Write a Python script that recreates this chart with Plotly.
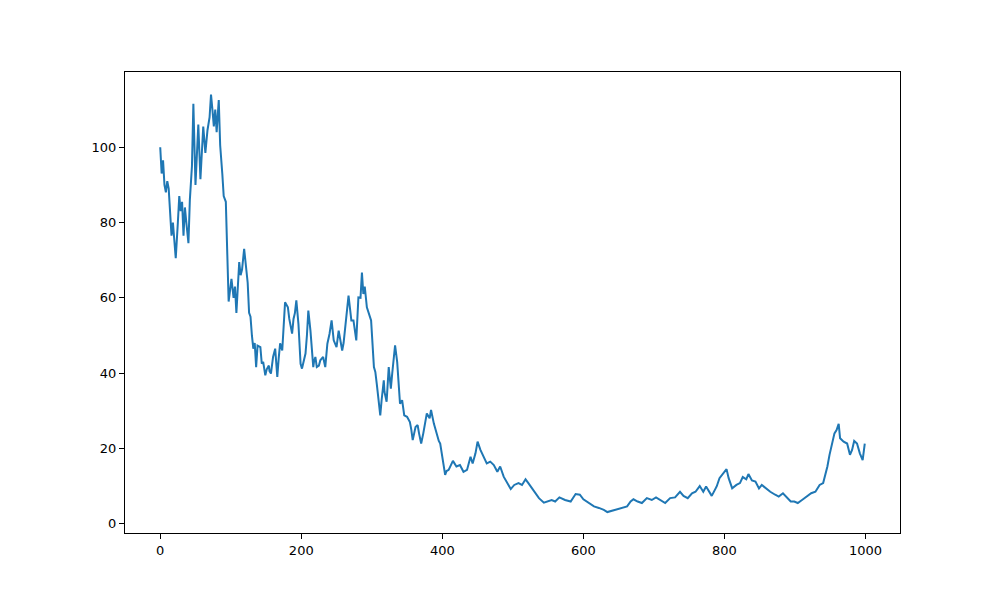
import plotly.graph_objects as go

x_vals = [0, 2, 4, 6, 8, 10, 12, 14, 16, 18, 20, 22, 25, 27, 29, 31, 33, 35, 37, 40,
          42, 45, 47, 50, 52, 54, 57, 59, 61, 64, 67, 70, 72, 74, 76, 78, 80, 83, 85, 88,
          90, 93, 95, 97, 99, 101, 104, 106, 108, 110, 112, 114, 116, 119, 122, 124, 126, 128, 130, 132,
          134, 136, 138, 142, 144, 146, 149, 151, 154, 155, 157, 160, 163, 166, 168, 170, 173, 175, 177, 181,
          183, 187, 189, 191, 193, 196, 199, 201, 203, 206, 208, 210, 213, 217, 218, 220, 222, 225, 227, 231,
          234, 237, 240, 243, 246, 250, 253, 258, 260, 262, 265, 267, 271, 274, 278, 281, 284, 286, 288, 290,
          293, 296, 299, 303, 305, 307, 310, 312, 314, 317, 318, 321, 324, 327, 329, 331, 333, 336, 338, 340,
          343, 346, 350, 354, 356, 358, 362, 365, 367, 370, 373, 376, 378, 382, 384, 388, 391, 395, 397, 401,
          404, 406, 409, 412, 415, 420, 425, 430, 435, 440, 443, 447, 450, 454, 459, 463, 468, 473, 478, 482,
          487, 492, 497, 502, 508, 513, 518, 522, 530, 537, 544, 551, 555, 560, 566, 574, 582, 589, 595, 600,
          607, 615, 622, 629, 634, 641, 648, 655, 662, 667, 671, 677, 683, 690, 697, 703, 709, 716, 723, 730,
          737, 742, 748, 754, 759, 765, 770, 774, 782, 789, 793, 799, 803, 806, 811, 817, 822, 826, 831, 834,
          839, 844, 849, 853, 860, 865, 872, 877, 883, 889, 894, 899, 904, 910, 917, 923, 929, 935, 940, 946,
          949, 953, 956, 959, 962, 964, 969, 974, 978, 981, 984, 988, 992, 996, 999]

y_vals = [100, 93, 96.5, 90, 88, 91, 89, 82, 76.5, 80, 76, 70.5, 80, 87, 83, 85.5, 76.5, 84, 80, 74.5,
          86, 95, 111.5, 90, 98, 106, 91.5, 100, 105.5, 98.5, 104.5, 108, 114, 110, 105.5, 110, 104, 112.5, 100.5, 93,
          87, 85.5, 70, 59, 62, 65, 60, 63, 56, 63, 69.5, 66, 67.5, 73, 68.5, 64, 56, 55, 50, 46.5,
          48, 41.6, 47.3, 46.9, 42.5, 43, 39.4, 41, 42, 40.5, 39.9, 44.3, 46.5, 39, 44, 47.9, 46, 52, 58.8, 57.5,
          54.4, 50.5, 54.4, 56, 59.3, 53, 42.5, 41.2, 43, 45.2, 50, 56.6, 51.3, 41.6, 43, 44.3, 41.6, 42, 43.4, 44.3,
          41.6, 47.8, 50.4, 54, 48.7, 46.9, 51.3, 46, 48, 51.3, 56, 60.6, 54, 54, 48.7, 60.1, 60, 66.7, 61, 63,
          57.5, 56, 54, 41.6, 40.3, 37.2, 33, 28.8, 33, 38.1, 35, 32.4, 41.6, 35.9, 40, 44.3, 47.4, 42.9, 37, 31.9,
          32.8, 28.8, 28.4, 27, 25, 22.2, 25.7, 26.2, 24, 21.3, 24, 27, 29.3, 28, 30.2, 26.6, 24.4, 22, 21.3, 17,
          13, 14, 14.3, 15.5, 16.7, 15.2, 15.6, 13.8, 14.3, 17.8, 16, 18.7, 21.8, 19.6, 17.8, 16, 16.5, 15.6, 13.8, 15.2,
          12.5, 10.8, 9.2, 10.3, 10.8, 10.3, 11.8, 10.8, 8.5, 6.8, 5.6, 6.1, 6.3, 5.9, 7, 6.3, 5.9, 7.9, 7.7, 6.5,
          5.5, 4.6, 4.2, 3.7, 3.1, 3.5, 3.9, 4.2, 4.6, 5.9, 6.5, 5.9, 5.5, 6.8, 6.3, 7, 6.3, 5.5, 6.8, 7,
          8.5, 7.4, 6.8, 8.1, 8.5, 10, 8.5, 9.9, 7.4, 9.9, 12.1, 13.4, 14.5, 12.1, 9.4, 10.3, 10.8, 12.4, 11.8, 13.2,
          11.5, 11.2, 9.4, 10.3, 9.2, 8.5, 7.7, 7.2, 8.1, 6.8, 5.9, 5.9, 5.5, 6.3, 7.2, 8.1, 8.5, 10.3, 10.8, 15.2,
          18.3, 21.3, 24, 24.9, 26.5, 22.7, 21.8, 21.3, 18.3, 19.6, 22, 21.3, 18.7, 16.9, 21.3]

x_ticks = [0, 200, 400, 600, 800, 1000]
y_ticks = [0, 20, 40, 60, 80, 100]

fig = go.Figure()
fig.add_trace(go.Scatter(x=x_vals, y=y_vals, mode="lines",
                         line=dict(color="#1f77b4", width=2), showlegend=False))

axis_common = dict(showline=True, linecolor="black", linewidth=1, mirror=True,
                   ticks="outside", ticklen=5, tickcolor="black", tickwidth=1,
                   showgrid=False, zeroline=False,
                   tickfont=dict(family="DejaVu Sans", size=13, color="black"))

fig.update_layout(
    width=1000, height=600,
    margin=dict(l=117, r=108, t=64, b=75),
    paper_bgcolor="white", plot_bgcolor="white",
    xaxis=dict(range=[-49.95, 1048.95], tickvals=x_ticks, **axis_common),
    yaxis=dict(range=[-2.46, 119.97], tickvals=y_ticks, **axis_common),
)

fig.write_html("out.html")
